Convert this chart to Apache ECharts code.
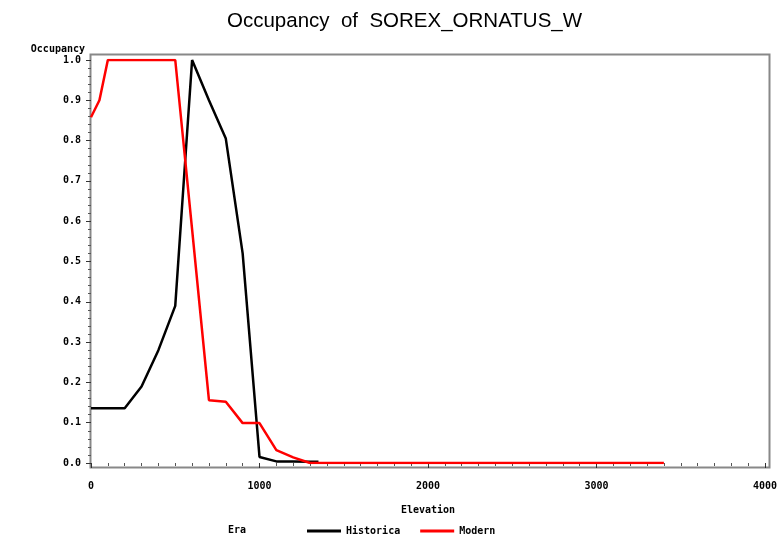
<!DOCTYPE html>
<html>
<head>
<meta charset="utf-8">
<script src="https://cdn.jsdelivr.net/npm/echarts@6/dist/echarts.min.js"></script>
<style>
    html, body { margin: 0; padding: 0; background: #fff; }
    #main { width: 783px; height: 538px; }
</style>
</head>
<body>
<div id="main"></div>
<script>
var titleText = 'Occupancy  of  SOREX_ORNATUS_W';
var seriesNames = ['Historica', 'Modern'];

// elevation / occupancy pairs
var historicaElev = [0, 100, 200, 300, 400, 500, 600, 700, 800, 900, 1000, 1100, 1200, 1300, 1350];
var historicaOcc = [0.136, 0.136, 0.136, 0.19, 0.28, 0.39, 1.0, 0.9, 0.805, 0.52, 0.015, 0.004, 0.004, 0.003, 0.003];

var modernElev = [0, 50, 100, 200, 300, 400, 500, 600, 700, 800, 900, 1000, 1100, 1200, 1300, 3400];
var modernOcc = [0.858, 0.9, 1.0, 1.0, 1.0, 1.0, 1.0, 0.58, 0.156, 0.152, 0.099, 0.099, 0.032, 0.014, 0.0, 0.0];

function pairs(xs, ys) {
    var out = [];
    for (var i = 0; i < xs.length; i++) {
        out.push([xs[i], ys[i]]);
    }
    return out;
}

var tickFont = {
    fontFamily: 'DejaVu Sans Mono',
    fontWeight: 'bold',
    fontSize: 10,
    color: '#000'
};

var option = {
    backgroundColor: '#fff',
    animation: false,
    title: {
        text: titleText,
        left: 222,
        top: 6,
        textStyle: {
            fontFamily: 'Liberation Sans',
            fontWeight: 'normal',
            fontSize: 20.5,
            color: '#000'
        }
    },
    legend: {
        data: seriesNames,
        left: 302,
        top: 521,
        itemWidth: 34,
        itemHeight: 3,
        itemGap: 20,
        icon: 'rect',
        textStyle: tickFont
    },
    graphic: [
        {
            type: 'text',
            left: 228,
            top: 525,
            style: { text: 'Era', font: 'bold 10px "DejaVu Sans Mono"', fill: '#000' }
        },
        {
            type: 'rect',
            shape: { x: 90.5, y: 54.5, width: 679, height: 413 },
            style: { fill: 'none', stroke: '#888', lineWidth: 2 },
            silent: true
        }
    ],
    grid: {
        left: 91,
        right: 18,
        top: 60,
        bottom: 75
    },
    xAxis: {
        type: 'value',
        min: 0,
        max: 4000,
        interval: 1000,
        offset: 5,
        name: 'Elevation',
        nameLocation: 'middle',
        nameGap: 37,
        nameTextStyle: tickFont,
        axisLine: { show: false },
        axisTick: { show: true, length: 5, lineStyle: { color: '#333' } },
        minorTick: { show: true, splitNumber: 10, length: 3, lineStyle: { color: '#555' } },
        splitLine: { show: false },
        axisLabel: { margin: 13, formatter: function (v) { return String(v); }, textStyle: tickFont }
    },
    yAxis: {
        type: 'value',
        min: 0,
        max: 1,
        interval: 0.1,
        name: 'Occupancy',
        nameLocation: 'end',
        nameGap: 6,
        nameTextStyle: Object.assign({}, tickFont, { align: 'right', padding: [0, 6, 0, 0] }),
        axisLine: { show: false },
        axisTick: { show: true, length: 5, lineStyle: { color: '#333' } },
        minorTick: { show: true, splitNumber: 5, length: 3, lineStyle: { color: '#555' } },
        splitLine: { show: false },
        axisLabel: { margin: 10, formatter: function (v) { return v.toFixed(1); }, textStyle: tickFont }
    },
    series: [
        {
            name: seriesNames[0],
            type: 'line',
            data: pairs(historicaElev, historicaOcc),
            showSymbol: false,
            symbol: 'none',
            color: '#000',
            lineStyle: { color: '#000', width: 2.5 }
        },
        {
            name: seriesNames[1],
            type: 'line',
            data: pairs(modernElev, modernOcc),
            showSymbol: false,
            symbol: 'none',
            color: '#ff0000',
            lineStyle: { color: '#ff0000', width: 2.5 }
        }
    ]
};

var myChart = echarts.init(document.getElementById('main'));
myChart.setOption(option);
</script>
</body>
</html>
